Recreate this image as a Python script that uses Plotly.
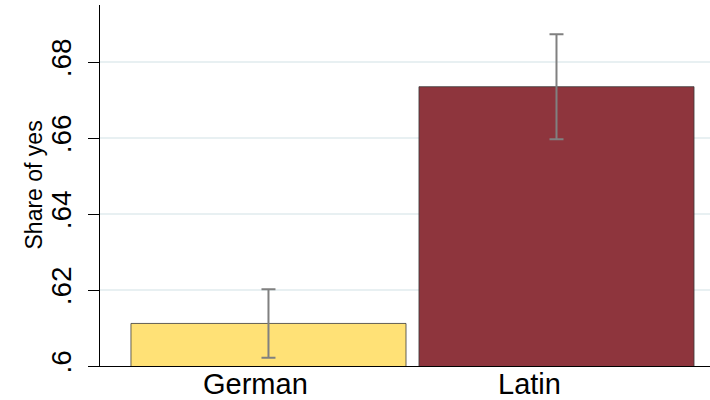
import plotly.graph_objects as go

# Data
categories = ["German", "Latin"]
cat_pos = [0, 1]
share_yes = [0.6112, 0.6735]
ci_low = [0.6022, 0.6597]
ci_high = [0.6202, 0.6873]
bar_colors = ["#FFE176", "#8E353D"]
y_ticks = [0.60, 0.62, 0.64, 0.66, 0.68]
y_tick_labels = [".6", ".62", ".64", ".66", ".68"]
label_shift_px = [-13, -27]  # category labels sit slightly left of bar centres

err_plus = [h - m for h, m in zip(ci_high, share_yes)]
err_minus = [m - l for m, l in zip(share_yes, ci_low)]

FONT = "Liberation Sans, Arial, Helvetica, sans-serif"

fig = go.Figure()
fig.add_trace(go.Bar(
    x=cat_pos,
    y=share_yes,
    width=0.955,
    marker=dict(color=bar_colors, line=dict(color="#3a3a3a", width=0.8)),
    error_y=dict(type="data", symmetric=False, array=err_plus, arrayminus=err_minus,
                 color="#808080", thickness=2, width=7),
    showlegend=False,
))

annotations = [dict(
    text="Share of yes", textangle=-90,
    xref="paper", yref="paper",
    x=-(100 - 33) / 610, y=0.5,
    xanchor="center", yanchor="middle",
    showarrow=False,
    font=dict(size=23, family=FONT, color="black"),
)]
for pos, name, sh in zip(cat_pos, categories, label_shift_px):
    annotations.append(dict(
        text=name, x=pos, xref="x", y=0, yref="paper",
        xanchor="center", yanchor="top", xshift=sh, yshift=0,
        showarrow=False,
        font=dict(size=29, family=FONT, color="black"),
    ))

fig.update_layout(
    width=710, height=400,
    margin=dict(l=100, r=0, t=5, b=34),
    paper_bgcolor="white", plot_bgcolor="white",
    font=dict(family=FONT, color="black"),
    xaxis=dict(
        range=[-0.585, 1.533],
        tickvals=cat_pos, showticklabels=False,
        ticks="", showgrid=False, zeroline=False,
        showline=True, linecolor="black", linewidth=1.3,
        automargin=False,
    ),
    yaxis=dict(
        range=[0.6, 0.695],
        tickvals=y_ticks, ticktext=y_tick_labels,
        tickangle=-90,
        ticks="outside", ticklen=11, tickwidth=1.3, tickcolor="black",
        showline=True, linecolor="black", linewidth=1.3,
        showgrid=True, gridcolor="#E8F0F2", gridwidth=1.5,
        zeroline=False,
        tickfont=dict(size=28, family=FONT, color="black"),
        ticklabelstandoff=6,
        automargin=False,
    ),
    annotations=annotations,
)

fig.write_html("out.html")
